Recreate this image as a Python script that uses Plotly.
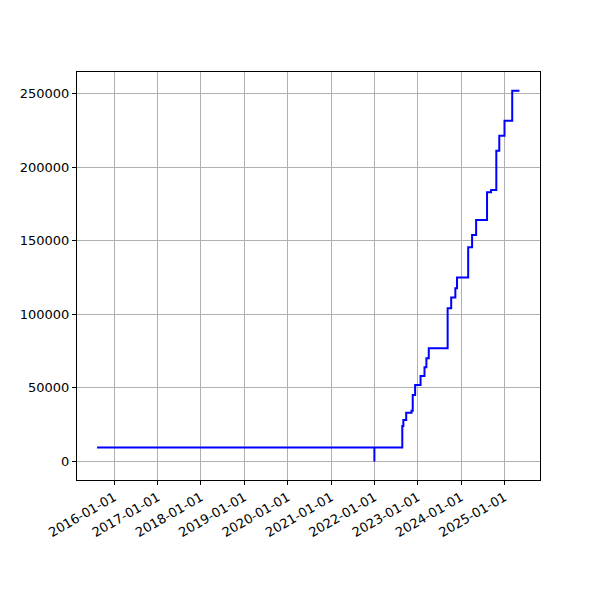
import plotly.graph_objects as go

dates = [
    "2015-08-10", "2022-01-01", "2022-01-01", "2022-08-24", "2022-09-02",
    "2022-09-26", "2022-11-10", "2022-11-20", "2022-12-10", "2023-01-25",
    "2023-02-27", "2023-03-15", "2023-04-04", "2023-09-10", "2023-10-10",
    "2023-11-14", "2023-11-28", "2024-03-01", "2024-04-03", "2024-05-07",
    "2024-08-07", "2024-09-10", "2024-10-24", "2024-11-18", "2025-01-01",
    "2025-03-07", "2025-05-07",
]
values = [
    9500, 0, 9500, 24100, 28200,
    33200, 34500, 45200, 52000, 58100,
    64000, 70200, 77000, 104200, 111400,
    117800, 125000, 145700, 154000, 164200,
    183100, 184600, 211300, 221500, 231700,
    252100, 252100,
]
y_ticks = [0, 50000, 100000, 150000, 200000, 250000]

fig = go.Figure()
fig.add_trace(go.Scatter(
    x=dates, y=values, mode="lines",
    line=dict(color="#0000ff", width=2, shape="hv"),
    showlegend=False,
))

axis_common = dict(
    showline=True, linecolor="black", linewidth=1, mirror=True,
    ticks="outside", ticklen=4, tickwidth=1, tickcolor="black",
    showgrid=True, gridcolor="#b0b0b0", gridwidth=1,
    zeroline=False,
    tickfont=dict(family="DejaVu Sans", size=13, color="black"),
)

fig.update_xaxes(
    type="date",
    range=["2015-02-22", "2025-10-27"],
    tick0="2016-01-01", dtick="M12", tickformat="%Y-%m-%d",
    tickangle=-30,
    **axis_common,
)
fig.update_yaxes(
    range=[-12600, 264800],
    tickvals=y_ticks, tickformat="d",
    **axis_common,
)

fig.update_layout(
    width=600, height=600, autosize=False,
    margin=dict(l=67, r=68, t=64, b=128),
    paper_bgcolor="white", plot_bgcolor="white",
    font=dict(family="DejaVu Sans", color="black"),
)

fig.write_html("out.html")
